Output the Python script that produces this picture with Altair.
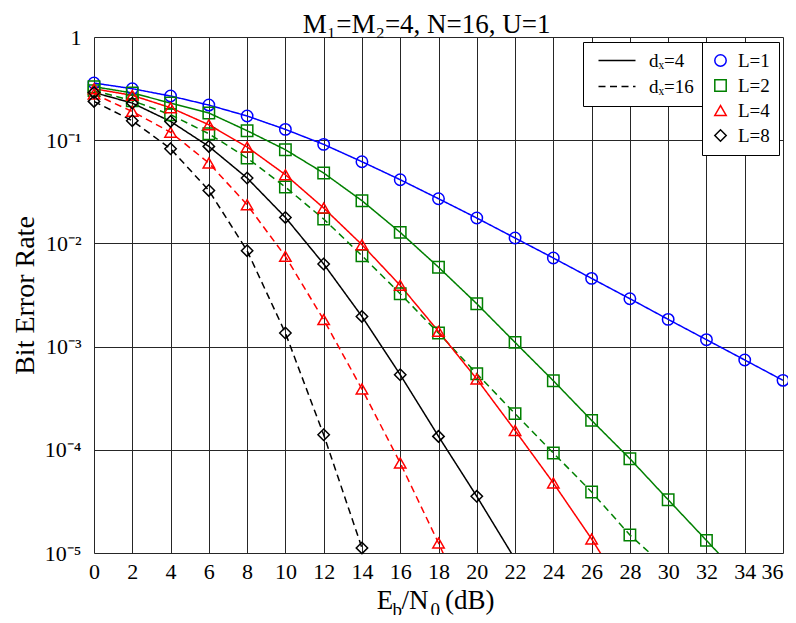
import altair as alt
import pandas as pd

# ---------------- data ----------------
snr = list(range(0, 38, 2))  # Eb/N0 in dB

ber_L1_dx4 = [0.358, 0.3155, 0.268, 0.219, 0.1716, 0.1272, 0.0911, 0.0619, 0.0414,
              0.0271, 0.01762, 0.01128, 0.00722, 0.00458, 0.00291, 0.001835,
              0.001167, 0.000742, 0.000471]
ber_L2_dx4 = [0.33, 0.287, 0.229, 0.1835, 0.1236, 0.0809, 0.0481, 0.02593, 0.01278,
              0.00588, 0.002604, 0.001098, 0.000467, 0.0001927, 8.2e-5, 3.28e-5,
              1.325e-5, 5.3e-6]
ber_L2_dx16 = [0.302, 0.2415, 0.1767, 0.1156, 0.0672, 0.0352, 0.01723, 0.0076,
               0.003255, 0.001354, 0.000546, 0.000224, 9.31e-5, 3.9e-5, 1.494e-5,
               6.9e-6]
ber_L4_dx4 = [0.315, 0.272, 0.2065, 0.1413, 0.0859, 0.0463, 0.02204, 0.00971,
              0.00392, 0.001404, 0.000485, 0.000154, 4.77e-5, 1.367e-5, 3.5e-6]
ber_L4_dx16 = [0.28, 0.19, 0.1195, 0.0601, 0.0237, 0.00748, 0.001823, 0.000388,
               7.45e-5, 1.25e-5, 1.9e-6]
ber_L8_dx4 = [0.29, 0.229, 0.152, 0.0871, 0.043, 0.01786, 0.00632, 0.00196,
              0.000534, 0.0001349, 3.54e-5, 8.7e-6]
ber_L8_dx16 = [0.2377, 0.1545, 0.0827, 0.0326, 0.0085, 0.001355, 0.00014, 1.12e-5]

L_domain = ["L=1", "L=2", "L=4", "L=8"]
L_colors = ["#0000ff", "#008000", "#ff0000", "#000000"]
L_shapes = ["circle", "square", "triangle-up", "diamond"]
dx_domain = ["dₓ=4", "dₓ=16"]

series = [
    ("L=1", "dₓ=4", ber_L1_dx4),
    ("L=2", "dₓ=4", ber_L2_dx4),
    ("L=2", "dₓ=16", ber_L2_dx16),
    ("L=4", "dₓ=4", ber_L4_dx4),
    ("L=4", "dₓ=16", ber_L4_dx16),
    ("L=8", "dₓ=4", ber_L8_dx4),
    ("L=8", "dₓ=16", ber_L8_dx16),
]
rows = []
for L, dx, vals in series:
    for s, v in zip(snr, vals):
        rows.append({"snr": s, "ber": v, "L": L, "Lline": L, "dx": dx,
                     "series": L + " " + dx})
df = pd.DataFrame(rows)

title_text = "M₁=M₂=4, N=16, U=1"
y_title = "Bit Error Rate"
# x title pieces: (text, font size, x offset in plot px, baseline y in plot px)
x_title_pieces = [("E", 27, 282.7, 572), ("b", 19, 298.5, 579), ("/N", 27, 307.5, 572),
                  ("0", 19, 336.5, 579), ("(dB)", 27, 351, 572)]

font = "Liberation Serif"
grid_col = "#262626"

# ---------------- encodings ----------------
x_enc = alt.X("snr:Q",
              scale=alt.Scale(domain=[0, 36], nice=False, zero=False),
              axis=alt.Axis(values=list(range(0, 37, 2)), title=None, ticks=False,
                            domain=False, labelFont=font, labelFontSize=22,
                            labelColor="black", labelPadding=8, labelFlush=False,
                            labelAlign={"condition": {"test": "datum.value >= 36",
                                                      "value": "right"},
                                        "value": "center"},
                            grid=True, gridColor=grid_col, gridWidth=1, gridOpacity=1))
y_enc = alt.Y("ber:Q",
              scale=alt.Scale(type="log", domain=[1e-5, 1], nice=False),
              axis=alt.Axis(values=[1e-5, 1e-4, 1e-3, 1e-2, 1e-1, 1],
                            labelExpr=("datum.value > 0.5 ? '1' : '10' + "
                                       "(datum.value > 0.05 ? '⁻¹' : datum.value > 0.005 ? '⁻²' : "
                                       "datum.value > 0.0005 ? '⁻³' : datum.value > 0.00005 ? '⁻⁴' : '⁻⁵')"),
                            title=y_title, titleFont=font, titleFontSize=28,
                            titleFontWeight="normal", titleColor="black",
                            titleX=-61, titleY=258, titleBaseline="alphabetic",
                            ticks=False, domain=False, labelFont=font,
                            labelFontSize=22, labelColor="black", labelPadding=13,
                            labelFlush=False, grid=True, gridColor=grid_col,
                            gridWidth=1, gridOpacity=1))

leg_lines = alt.Legend(title=None, orient="none", legendX=489, legendY=5,
                       fillColor="white", strokeColor="black", padding=9,
                       cornerRadius=0, labelFont=font, labelFontSize=19,
                       labelColor="black", symbolType="M-0.6,0H6.8", symbolSize=100,
                       symbolStrokeColor="black", symbolStrokeWidth=1.5,
                       labelOffset=38, rowPadding=6)
leg_pts = alt.Legend(title=None, orient="none", legendX=608, legendY=5,
                     fillColor="white", strokeColor="black", padding=9,
                     cornerRadius=0, labelFont=font, labelFontSize=19,
                     labelColor="black", symbolSize=130, symbolStrokeWidth=1.5,
                     labelOffset=8, rowPadding=5)

lines = alt.Chart(df).mark_line(clip=True, strokeWidth=1.5).encode(
    x=x_enc, y=y_enc,
    stroke=alt.Stroke("Lline:N", scale=alt.Scale(domain=L_domain, range=L_colors), legend=None),
    strokeDash=alt.StrokeDash("dx:N", scale=alt.Scale(domain=dx_domain, range=[[1, 0], [7, 4.5]]),
                              legend=leg_lines),
    detail="series:N",
)

points = alt.Chart(df).transform_filter("datum.ber >= 0.00001").mark_point(
    clip=False, filled=False, size=130, strokeWidth=1.5, opacity=1).encode(
    x=x_enc, y=y_enc,
    color=alt.Color("L:N", scale=alt.Scale(domain=L_domain, range=L_colors), legend=leg_pts),
    shape=alt.Shape("L:N", scale=alt.Scale(domain=L_domain, range=L_shapes), legend=leg_pts),
)

texts = []
for txt, fs, px, py in x_title_pieces:
    texts.append(
        alt.Chart(pd.DataFrame({"t": [txt]})).mark_text(
            font=font, fontSize=fs, align="left", baseline="alphabetic", color="black"
        ).encode(text="t:N", x=alt.value(px), y=alt.value(py))
    )
title_layer = alt.Chart(pd.DataFrame({"t": [title_text]})).mark_text(
    font=font, fontSize=27, align="center", baseline="alphabetic", color="black"
).encode(text="t:N", x=alt.value(332.7), y=alt.value(-4))

chart = alt.layer(lines, points, *texts, title_layer).resolve_scale(
    color="independent", shape="independent", stroke="independent"
).properties(
    width=689, height=516,
    autosize=alt.AutoSizeParams(type="none"),
    padding={"left": 86, "top": 29, "right": 5, "bottom": 62},
).configure_view(stroke="black", strokeWidth=1.2).configure(background="white")

chart.save("out.html", embed_options={"renderer": "svg", "actions": False})
